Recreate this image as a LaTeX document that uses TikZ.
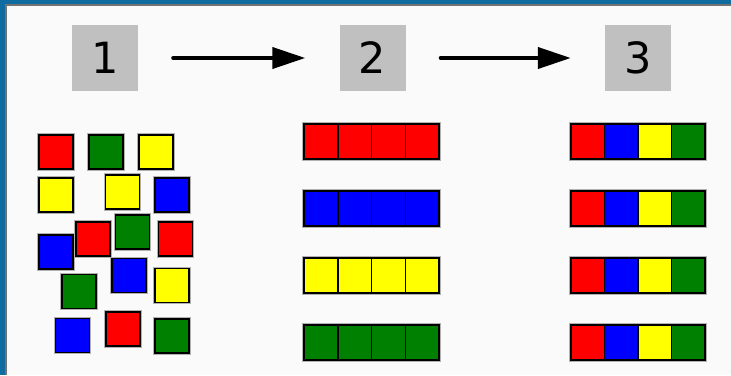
\documentclass[tikz,border=0pt]{standalone}
\usepackage{fontspec}
\setmainfont{DejaVu Sans}
\usetikzlibrary{arrows.meta}
\definecolor{framebl}{RGB}{14,108,160}
\definecolor{bgc}{RGB}{250,250,250}
\definecolor{boxgray}{RGB}{192,192,192}
\definecolor{cred}{RGB}{255,0,0}
\definecolor{cgreen}{RGB}{0,128,0}
\definecolor{cyellow}{RGB}{255,255,0}
\definecolor{cblue}{RGB}{0,0,255}
\tikzset{
  numbox/.style={fill=boxgray, minimum size=66pt, inner sep=0pt, font=\fontsize{43}{43}\selectfont},
  tile/.style={draw=black, line width=1.3pt, inner sep=0pt, minimum size=34pt,
    preaction={draw=black!30, line width=3.2pt}},
  cell/.style={draw=black, line width=1.5pt, inner sep=0pt, minimum height=35pt},
  halo/.style={draw=black!30, line width=3.4pt},
  flow/.style={line width=4pt, line cap=round, -{Triangle[length=33pt,width=21pt]},
    shorten <=35pt, shorten >=34pt}
}
\begin{document}
\begin{tikzpicture}[x=1pt,y=-1pt]
\useasboundingbox (0,0) rectangle (731,375);
\fill[framebl] (0,0) rectangle (731,375);
\fill[black!55] (5,4) rectangle (731,375);
\fill[bgc] (7,6) rectangle (731,375);
% number boxes
\node[numbox] (b1) at (105,58) {1};
\node[numbox] (b2) at (372.5,58) {2};
\node[numbox] (b3) at (638,58) {3};
\draw[flow] (b1) -- (b2);
\draw[flow] (b2) -- (b3);
% column 1: scattered tiles
\node[tile, fill=cred]    (t1)  at (56,152) {};
\node[tile, fill=cgreen]  (t2)  at (106,152) {};
\node[tile, fill=cyellow] (t3)  at (156,152) {};
\node[tile, fill=cyellow] (t4)  at (56,195) {};
\node[tile, fill=cyellow] (t5)  at (122.5,192) {};
\node[tile, fill=cblue]   (t6)  at (172,195) {};
\node[tile, fill=cblue]   (t10) at (56,252) {};
\node[tile, fill=cred]    (t7)  at (93,239) {};
\node[tile, fill=cgreen]  (t8)  at (132.5,232) {};
\node[tile, fill=cred]    (t9)  at (175.5,239) {};
\node[tile, fill=cblue]   (t11) at (129,275.5) {};
\node[tile, fill=cgreen]  (t12) at (79,291.5) {};
\node[tile, fill=cyellow] (t13) at (172,285.5) {};
\node[tile, fill=cblue]   (t14) at (72.5,335.5) {};
\node[tile, fill=cred]    (t15) at (123,329) {};
\node[tile, fill=cgreen]  (t16) at (172,336) {};
% halos behind rows
\foreach \r in {1,2,3,4}{
  \draw[halo] (304,{124+67*(\r-1)}) rectangle (439,{159+67*(\r-1)});
  \draw[halo] (571,{124+67*(\r-1)}) rectangle (705,{159+67*(\r-1)});
}
% column 2: sorted rows
\foreach \col [count=\r] in {cred,cblue,cyellow,cgreen}{
  \foreach \i in {0,1,2,3}{
    \node[cell, minimum width=33.75pt, fill=\col] (m\r-\i) at ({304+16.875+33.75*\i},{141.5+67*(\r-1)}) {};
  }
}
% column 3: mixed rows
\foreach \r in {1,2,3,4}{
  \foreach \col [count=\k from 0] in {cred,cblue,cyellow,cgreen}{
    \node[cell, minimum width=33.5pt, fill=\col] (n\r-\k) at ({571+16.75+33.5*\k},{141.5+67*(\r-1)}) {};
  }
}
\end{tikzpicture}
\end{document}
